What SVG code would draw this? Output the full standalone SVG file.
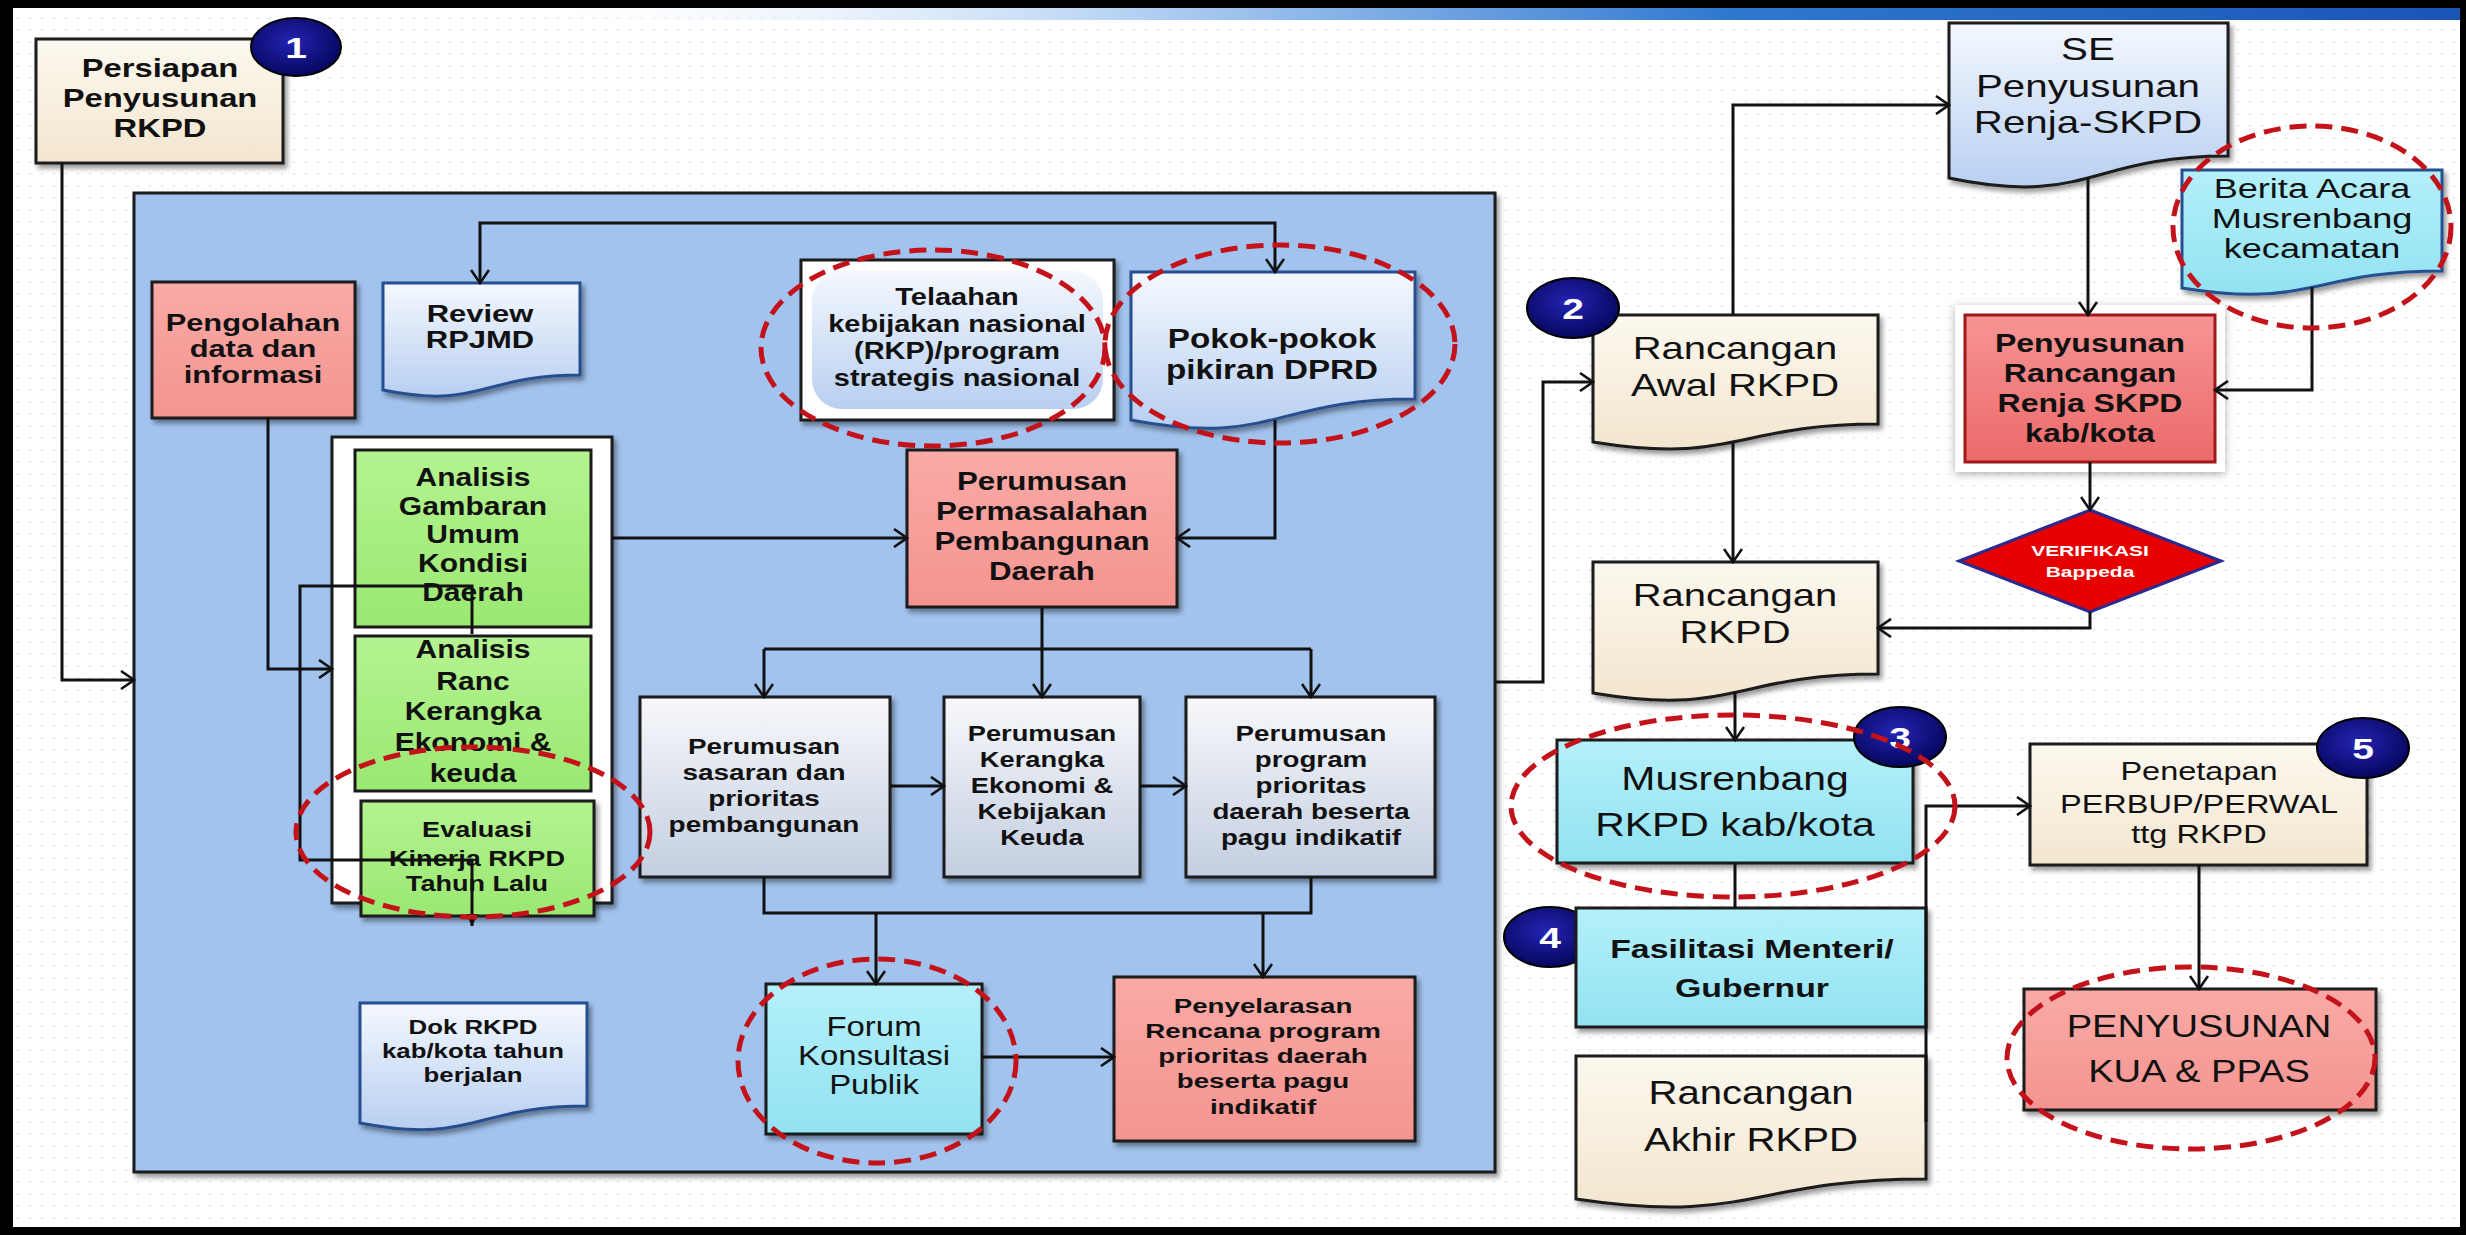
<svg xmlns="http://www.w3.org/2000/svg" width="2466" height="1235" viewBox="0 0 2466 1235">
<defs>
<style>
.t{font-family:"Liberation Sans",Arial,sans-serif;text-anchor:middle;fill:#111}
.b{font-weight:bold}
.w{fill:#fff}
.ln{fill:none;stroke:#111;stroke-width:3}
.ar{marker-end:url(#ah)}
.hl{fill:none;stroke:#c4121a;stroke-width:5;stroke-dasharray:17 9}
.bd{stroke:#1a1a1a;stroke-width:3}
.bb{stroke:#274f8f;stroke-width:3}
.sh{filter:url(#sh)}
.badge{fill:url(#navy);stroke:#000;stroke-width:2}
</style>
<pattern id="dots" width="12" height="12" patternUnits="userSpaceOnUse"><circle cx="6" cy="6" r="1" fill="#dde0e7"/></pattern>
<linearGradient id="bar" x1="0" y1="0" x2="1" y2="0"><stop offset="0" stop-color="#ffffff" stop-opacity="0"/><stop offset="0.2" stop-color="#ffffff" stop-opacity="0"/><stop offset="0.45" stop-color="#b8d4f4"/><stop offset="0.7" stop-color="#2f78d0"/><stop offset="1" stop-color="#1a55b5"/></linearGradient>
<linearGradient id="cream" x1="0" y1="0" x2="0" y2="1"><stop offset="0" stop-color="#fcf8ef"/><stop offset="1" stop-color="#f3e6cf"/></linearGradient>
<linearGradient id="lblue" x1="0" y1="0" x2="0" y2="1"><stop offset="0" stop-color="#f4f8fe"/><stop offset="1" stop-color="#b8cff1"/></linearGradient>
<linearGradient id="gray" x1="0" y1="0" x2="0" y2="1"><stop offset="0" stop-color="#f7f8fb"/><stop offset="1" stop-color="#c3cee0"/></linearGradient>
<linearGradient id="cyan" x1="0" y1="0" x2="0" y2="1"><stop offset="0" stop-color="#b4f0fa"/><stop offset="1" stop-color="#92e2f2"/></linearGradient>
<linearGradient id="green" x1="0" y1="0" x2="0" y2="1"><stop offset="0" stop-color="#b4f390"/><stop offset="1" stop-color="#9ae872"/></linearGradient>
<linearGradient id="salmon" x1="0" y1="0" x2="0" y2="1"><stop offset="0" stop-color="#f9aaa6"/><stop offset="1" stop-color="#f49490"/></linearGradient>
<linearGradient id="red" x1="0" y1="0" x2="0" y2="1"><stop offset="0" stop-color="#f79494"/><stop offset="1" stop-color="#ec6a6a"/></linearGradient>
<radialGradient id="navy" cx="0.45" cy="0.4" r="0.6"><stop offset="0" stop-color="#2424b4"/><stop offset="1" stop-color="#06065e"/></radialGradient>
<filter id="sh" x="-5%" y="-5%" width="115%" height="120%"><feDropShadow dx="3" dy="4" stdDeviation="2.5" flood-color="#000" flood-opacity="0.4"/></filter>
<filter id="glow" x="-10%" y="-10%" width="120%" height="120%"><feDropShadow dx="0" dy="2" stdDeviation="4" flood-color="#777" flood-opacity="0.6"/></filter>
<marker id="ah" viewBox="0 0 16 20" refX="14" refY="10" markerWidth="16" markerHeight="20" markerUnits="userSpaceOnUse" orient="auto-start-reverse"><path d="M1,1 L14,10 L1,19" fill="none" stroke="#111" stroke-width="2.6"/></marker>
<marker id="tri" viewBox="0 0 14 12" refX="12" refY="6" markerWidth="14" markerHeight="12" markerUnits="userSpaceOnUse" orient="auto"><path d="M0,0 L12,6 L0,12 Z" fill="#111"/></marker>
</defs>

<!-- frame and background -->
<rect x="0" y="0" width="2466" height="1235" fill="#000"/>
<rect x="13" y="8" width="2447" height="1219" fill="#fff"/>
<rect x="13" y="8" width="2447" height="1219" fill="url(#dots)"/>
<rect x="13" y="8" width="2447" height="12" fill="url(#bar)"/>

<!-- big blue container -->
<g id="container">
<rect x="134" y="193" width="1361" height="979" fill="#a2c3ee" class="bd sh"/>
</g>

<!-- nodes -->
<g id="persiapan">
<rect x="36" y="39" width="247" height="124" fill="url(#cream)" class="bd sh"/>
<text class="t b" font-size="26" transform="matrix(1.26,0,0,1,160,0)"><tspan x="0" y="77">Persiapan</tspan><tspan x="0" y="107">Penyusunan</tspan><tspan x="0" y="137">RKPD</tspan></text>
</g>

<g id="pengolahan">
<rect x="152" y="282" width="203" height="136" fill="url(#salmon)" class="bd sh"/>
<text class="t b" font-size="23" transform="matrix(1.34,0,0,1,253,0)"><tspan x="0" y="331">Pengolahan</tspan><tspan x="0" y="357">data dan</tspan><tspan x="0" y="383">informasi</tspan></text>
</g>

<g id="review-rpjmd">
<path d="M383,283 H580 V375 C481,375 481,410 383,390 Z" fill="url(#lblue)" class="bb sh"/>
<text class="t b" font-size="24" transform="matrix(1.29,0,0,1,480,0)"><tspan x="0" y="322">Review</tspan><tspan x="0" y="348">RPJMD</tspan></text>
</g>

<g id="telaahan">
<rect x="801" y="260" width="313" height="160" fill="#fff" class="bd sh"/>
<rect x="812" y="271" width="291" height="138" rx="30" fill="url(#lblue)"/>
<text class="t b" font-size="23" transform="matrix(1.26,0,0,1,957,0)"><tspan x="0" y="305">Telaahan</tspan><tspan x="0" y="332">kebijakan nasional</tspan><tspan x="0" y="359">(RKP)/program</tspan><tspan x="0" y="386">strategis nasional</tspan></text>
</g>

<g id="pokok-pikiran">
<path d="M1131,272 H1415 V399 C1273,399 1273,447 1131,420 Z" fill="url(#lblue)" class="bb sh"/>
<text class="t b" font-size="27" transform="matrix(1.23,0,0,1,1272,0)"><tspan x="0" y="348">Pokok-pokok</tspan><tspan x="0" y="379">pikiran DPRD</tspan></text>
</g>

<g id="perumusan-permasalahan">
<rect x="907" y="450" width="270" height="157" fill="url(#salmon)" class="bd sh"/>
<text class="t b" font-size="25" transform="matrix(1.25,0,0,1,1042,0)"><tspan x="0" y="490">Perumusan</tspan><tspan x="0" y="520">Permasalahan</tspan><tspan x="0" y="550">Pembangunan</tspan><tspan x="0" y="580">Daerah</tspan></text>
</g>

<g id="analisis-group">
<rect x="332" y="437" width="280" height="466" fill="#fff" class="bd sh"/>
</g>

<g id="analisis-gambaran">
<rect x="355" y="450" width="236" height="177" fill="url(#green)" class="bd"/>
<text class="t b" font-size="25" transform="matrix(1.2,0,0,1,473,0)"><tspan x="0" y="486">Analisis</tspan><tspan x="0" y="515">Gambaran</tspan><tspan x="0" y="543">Umum</tspan><tspan x="0" y="572">Kondisi</tspan><tspan x="0" y="601">Daerah</tspan></text>
</g>

<g id="analisis-ranc">
<rect x="355" y="636" width="236" height="155" fill="url(#green)" class="bd"/>
<text class="t b" font-size="25" transform="matrix(1.2,0,0,1,473,0)"><tspan x="0" y="658">Analisis</tspan><tspan x="0" y="690">Ranc</tspan><tspan x="0" y="720">Kerangka</tspan><tspan x="0" y="751">Ekonomi &amp;</tspan><tspan x="0" y="782">keuda</tspan></text>
</g>

<g id="evaluasi">
<rect x="361" y="801" width="233" height="115" fill="url(#green)" class="bd sh"/>
<text class="t b" font-size="22" transform="matrix(1.23,0,0,1,477,0)"><tspan x="0" y="837">Evaluasi</tspan><tspan x="0" y="866">Kinerja RKPD</tspan><tspan x="0" y="891">Tahun Lalu</tspan></text>
</g>

<g id="dok-rkpd">
<path d="M360,1003 H587 V1106 C473,1106 473,1145 360,1123 Z" fill="url(#lblue)" class="bb sh"/>
<text class="t b" font-size="20" transform="matrix(1.29,0,0,1,473,0)"><tspan x="0" y="1034">Dok RKPD</tspan><tspan x="0" y="1058">kab/kota tahun</tspan><tspan x="0" y="1082">berjalan</tspan></text>
</g>

<g id="perumusan-sasaran">
<rect x="640" y="697" width="250" height="180" fill="url(#gray)" class="bd sh"/>
<text class="t b" font-size="22" transform="matrix(1.27,0,0,1,764,0)"><tspan x="0" y="754">Perumusan</tspan><tspan x="0" y="780">sasaran dan</tspan><tspan x="0" y="806">prioritas</tspan><tspan x="0" y="832">pembangunan</tspan></text>
</g>

<g id="perumusan-kerangka">
<rect x="944" y="697" width="196" height="180" fill="url(#gray)" class="bd sh"/>
<text class="t b" font-size="22" transform="matrix(1.24,0,0,1,1042,0)"><tspan x="0" y="741">Perumusan</tspan><tspan x="0" y="767">Kerangka</tspan><tspan x="0" y="793">Ekonomi &amp;</tspan><tspan x="0" y="819">Kebijakan</tspan><tspan x="0" y="845">Keuda</tspan></text>
</g>

<g id="perumusan-program">
<rect x="1186" y="697" width="249" height="180" fill="url(#gray)" class="bd sh"/>
<text class="t b" font-size="22" transform="matrix(1.26,0,0,1,1311,0)"><tspan x="0" y="741">Perumusan</tspan><tspan x="0" y="767">program</tspan><tspan x="0" y="793">prioritas</tspan><tspan x="0" y="819">daerah beserta</tspan><tspan x="0" y="845">pagu indikatif</tspan></text>
</g>

<g id="forum-konsultasi">
<rect x="766" y="984" width="216" height="150" fill="url(#cyan)" class="bd sh"/>
<text class="t" font-size="27" transform="matrix(1.22,0,0,1,874,0)"><tspan x="0" y="1036">Forum</tspan><tspan x="0" y="1065">Konsultasi</tspan><tspan x="0" y="1094">Publik</tspan></text>
</g>

<g id="penyelarasan">
<rect x="1114" y="977" width="301" height="164" fill="url(#salmon)" class="bd sh"/>
<text class="t b" font-size="21" transform="matrix(1.32,0,0,1,1263,0)"><tspan x="0" y="1013">Penyelarasan</tspan><tspan x="0" y="1038">Rencana program</tspan><tspan x="0" y="1063">prioritas daerah</tspan><tspan x="0" y="1088">beserta pagu</tspan><tspan x="0" y="1114">indikatif</tspan></text>
</g>

<g id="rancangan-awal">
<path d="M1593,315 H1878 V424 C1735,424 1735,465 1593,442 Z" fill="url(#cream)" class="bd sh"/>
<text class="t" font-size="32" transform="matrix(1.25,0,0,1,1735,0)"><tspan x="0" y="359">Rancangan</tspan><tspan x="0" y="396">Awal RKPD</tspan></text>
</g>

<g id="se-renja">
<path d="M1949,23 H2228 V156 C2088,156 2088,207 1949,178 Z" fill="url(#lblue)" class="bd sh"/>
<text class="t" font-size="32" transform="matrix(1.26,0,0,1,2088,0)"><tspan x="0" y="60">SE</tspan><tspan x="0" y="97">Penyusunan</tspan><tspan x="0" y="133">Renja-SKPD</tspan></text>
</g>

<g id="berita-acara">
<path d="M2182,170 H2442 V271 C2312,271 2312,309 2182,288 Z" fill="url(#cyan)" class="bb sh"/>
<text class="t" font-size="28" transform="matrix(1.29,0,0,1,2312,0)"><tspan x="0" y="198">Berita Acara</tspan><tspan x="0" y="228">Musrenbang</tspan><tspan x="0" y="258">kecamatan</tspan></text>
</g>

<g id="penyusunan-renja">
<rect x="1955" y="305" width="270" height="167" fill="#fff" filter="url(#glow)"/>
<rect x="1965" y="315" width="250" height="147" fill="url(#red)" stroke="#a01818" stroke-width="3"/>
<text class="t b" font-size="25" transform="matrix(1.28,0,0,1,2090,0)"><tspan x="0" y="352">Penyusunan</tspan><tspan x="0" y="382">Rancangan</tspan><tspan x="0" y="412">Renja SKPD</tspan><tspan x="0" y="442">kab/kota</tspan></text>
</g>

<g id="verifikasi">
<polygon points="2090,510 2221,561 2090,612 1959,561" fill="#e60000" stroke="#2a2a90" stroke-width="3"/>
<text class="t b w" font-size="15" transform="matrix(1.4,0,0,1,2090,0)"><tspan x="0" y="556">VERIFIKASI</tspan><tspan x="0" y="577">Bappeda</tspan></text>
</g>

<g id="rancangan-rkpd">
<path d="M1593,562 H1878 V674 C1735,674 1735,717 1593,693 Z" fill="url(#cream)" class="bd sh"/>
<text class="t" font-size="32" transform="matrix(1.25,0,0,1,1735,0)"><tspan x="0" y="606">Rancangan</tspan><tspan x="0" y="643">RKPD</tspan></text>
</g>

<g id="musrenbang">
<rect x="1557" y="740" width="356" height="123" fill="url(#cyan)" class="bd sh"/>
<text class="t" font-size="33" transform="matrix(1.24,0,0,1,1735,0)"><tspan x="0" y="790">Musrenbang</tspan><tspan x="0" y="836">RKPD kab/kota</tspan></text>
</g>

<g id="badge-4">
<ellipse cx="1550" cy="937" rx="46" ry="30" class="badge"/>
<text class="t b w" font-size="30" transform="matrix(1.3,0,0,1,1550,0)"><tspan x="0" y="948">4</tspan></text>
</g>

<g id="fasilitasi">
<rect x="1576" y="908" width="350" height="119" fill="url(#cyan)" class="bd sh"/>
<text class="t b" font-size="26" transform="matrix(1.3,0,0,1,1752,0)"><tspan x="0" y="958">Fasilitasi Menteri/</tspan><tspan x="0" y="997">Gubernur</tspan></text>
</g>

<g id="rancangan-akhir">
<path d="M1576,1056 H1926 V1179 C1751,1179 1751,1225 1576,1199 Z" fill="url(#cream)" class="bd sh"/>
<text class="t" font-size="34" transform="matrix(1.18,0,0,1,1751,0)"><tspan x="0" y="1104">Rancangan</tspan><tspan x="0" y="1151">Akhir RKPD</tspan></text>
</g>

<g id="penetapan">
<rect x="2030" y="744" width="337" height="121" fill="url(#cream)" class="bd sh"/>
<text class="t" font-size="26" transform="matrix(1.25,0,0,1,2199,0)"><tspan x="0" y="780">Penetapan</tspan><tspan x="0" y="813">PERBUP/PERWAL</tspan><tspan x="0" y="843">ttg RKPD</tspan></text>
</g>

<g id="kua-ppas">
<rect x="2024" y="989" width="352" height="121" fill="url(#salmon)" class="bd sh"/>
<text class="t" font-size="31" transform="matrix(1.23,0,0,1,2199,0)"><tspan x="0" y="1037">PENYUSUNAN</tspan><tspan x="0" y="1082">KUA &amp; PPAS</tspan></text>
</g>

<!-- connectors -->
<g id="connectors">
<path class="ln ar" d="M62,163 V680 H134"/>
<path class="ln ar" d="M268,418 V669 H332"/>
<path class="ln" d="M480,283 V223 H1275 V272" marker-start="url(#ah)" marker-end="url(#ah)"/>
<path class="ln ar" d="M1275,420 V538 H1177"/>
<path class="ln ar" d="M612,538 H907"/>
<path class="ln ar" d="M1042,607 V697"/>
<path class="ln" d="M764,649 H1311"/>
<path class="ln ar" d="M764,649 V697"/>
<path class="ln ar" d="M1311,649 V697"/>
<path class="ln ar" d="M890,786 H944"/>
<path class="ln ar" d="M1140,786 H1186"/>
<path class="ln" d="M764,877 V913 H1311 V877"/>
<path class="ln ar" d="M876,913 V984"/>
<path class="ln ar" d="M1263,913 V977"/>
<path class="ln ar" d="M982,1057 H1114"/>
<path class="ln" d="M472,634 V586 H300 V860 H472 V926" marker-end="url(#tri)"/>
<path class="ln ar" d="M1495,682 H1543 V382 H1593"/>
<path class="ln ar" d="M1733,315 V105 H1949"/>
<path class="ln ar" d="M1733,442 V562"/>
<path class="ln ar" d="M2088,178 V315"/>
<path class="ln ar" d="M2312,287 V390 H2215"/>
<path class="ln ar" d="M2090,462 V510"/>
<path class="ln ar" d="M2090,612 V628 H1878"/>
<path class="ln ar" d="M1735,692 V740"/>
<path class="ln" d="M1735,863 V908"/>
<path class="ln ar" d="M1926,1122 V806 H2030"/>
<path class="ln ar" d="M2199,865 V989"/>
</g>

<!-- badges -->
<g id="badge-1">
<ellipse cx="296" cy="47" rx="45" ry="29" class="badge"/>
<text class="t b w" font-size="30" transform="matrix(1.3,0,0,1,296,0)"><tspan x="0" y="58">1</tspan></text>
</g>
<g id="badge-2">
<ellipse cx="1573" cy="308" rx="46" ry="30" class="badge"/>
<text class="t b w" font-size="30" transform="matrix(1.3,0,0,1,1573,0)"><tspan x="0" y="319">2</tspan></text>
</g>
<g id="badge-3">
<ellipse cx="1900" cy="737" rx="46" ry="30" class="badge"/>
<text class="t b w" font-size="30" transform="matrix(1.3,0,0,1,1900,0)"><tspan x="0" y="748">3</tspan></text>
</g>
<g id="badge-5">
<ellipse cx="2363" cy="748" rx="46" ry="30" class="badge"/>
<text class="t b w" font-size="30" transform="matrix(1.3,0,0,1,2363,0)"><tspan x="0" y="759">5</tspan></text>
</g>

<!-- red dashed highlight ellipses -->
<g id="highlights">
<ellipse class="hl" cx="933" cy="348" rx="172" ry="98"/>
<ellipse class="hl" cx="1280" cy="344" rx="175" ry="99"/>
<ellipse class="hl" cx="473" cy="832" rx="177" ry="85"/>
<ellipse class="hl" cx="877" cy="1061" rx="139" ry="102"/>
<ellipse class="hl" cx="2312" cy="227" rx="139" ry="101"/>
<ellipse class="hl" cx="1733" cy="806" rx="222" ry="91"/>
<ellipse class="hl" cx="2191" cy="1058" rx="184" ry="91"/>
</g>
</svg>
